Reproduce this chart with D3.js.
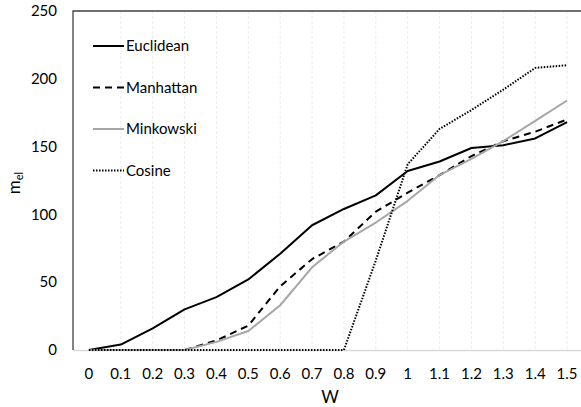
<!DOCTYPE html>
<html>
<head>
<meta charset="utf-8">
<script src="https://cdn.jsdelivr.net/npm/d3@7"></script>
<style>
  body { margin: 0; background: #fff; }
  svg text { font-family: Lato, "Open Sans", sans-serif; fill: #000; }
</style>
</head>
<body>
<svg id="chart" width="581" height="407"></svg>
<script>
// Data
const wLabels = ["0", "0.1", "0.2", "0.3", "0.4", "0.5", "0.6", "0.7", "0.8", "0.9", "1", "1.1", "1.2", "1.3", "1.4", "1.5"];
const euclidean = [0, 4, 16, 30, 39, 52, 71, 92, 104, 114, 132, 139, 149, 151, 156, 168];
const manhattan = [0, 0, 0, 0, 7, 18, 47, 67, 80, 102, 116, 129, 143, 154, 161, 170];
const minkowski = [0, 0, 0, 0, 6, 14, 33, 61, 80, 94, 110, 129, 141, 154, 169, 184];
const cosine = [0, 0, 0, 0, 0, 0, 0, 0, 0, 66, 137, 163, 177, 192, 208, 210];
const yTicks = [0, 50, 100, 150, 200, 250];

const series = [
  { name: "Euclidean", values: euclidean, color: "#000", width: 2, dash: null },
  { name: "Manhattan", values: manhattan, color: "#000", width: 2, dash: "7,5" },
  { name: "Minkowski", values: minkowski, color: "#a6a6a6", width: 2, dash: null },
  { name: "Cosine", values: cosine, color: "#000", width: 2, dash: "1.5,1.5" }
];

const svg = d3.select("#chart");
const plotLeft = 73, plotTop = 11, plotRight = 583, plotBottom = 350;

const x = d3.scaleBand().domain(wLabels).range([plotLeft, plotRight]);
const y = d3.scaleLinear().domain([0, 250]).range([plotBottom, plotTop]);

// vertical gridlines
svg.append("g")
  .selectAll("line")
  .data(wLabels.slice(1))
  .enter().append("line")
  .attr("x1", d => x(d) + x.bandwidth() / 2)
  .attr("x2", d => x(d) + x.bandwidth() / 2)
  .attr("y1", plotTop)
  .attr("y2", plotBottom)
  .attr("stroke", "#ececec")
  .attr("stroke-width", 1)
  .attr("stroke-dasharray", "3,2");

// bottom axis line
svg.append("line")
  .attr("x1", plotLeft).attr("x2", 581)
  .attr("y1", plotBottom + 0.5).attr("y2", plotBottom + 0.5)
  .attr("stroke", "#d9d9d9").attr("stroke-width", 1.5);

// border top and left
svg.append("path")
  .attr("d", `M${plotLeft},${plotBottom} L${plotLeft},${plotTop} L581,${plotTop}`)
  .attr("fill", "none")
  .attr("stroke", "#404040")
  .attr("stroke-width", 1.3);

// y tick labels
svg.append("g")
  .selectAll("text")
  .data(yTicks)
  .enter().append("text")
  .attr("x", 57)
  .attr("y", d => y(d))
  .attr("dy", "0.35em")
  .attr("text-anchor", "end")
  .attr("font-size", 15)
  .text(d => d);

// x tick labels
svg.append("g")
  .selectAll("text")
  .data(wLabels)
  .enter().append("text")
  .attr("x", d => x(d) + x.bandwidth() / 2)
  .attr("y", 374)
  .attr("dy", "0.35em")
  .attr("text-anchor", "middle")
  .attr("font-size", 15)
  .text(d => d);

// axis titles
svg.append("text")
  .attr("x", 330).attr("y", 397)
  .attr("dy", "0.35em")
  .attr("text-anchor", "middle")
  .attr("font-size", 17)
  .text("W");

const yt = svg.append("text")
  .attr("transform", "translate(20,183) rotate(-90)")
  .attr("text-anchor", "middle")
  .attr("font-size", 17);
yt.append("tspan").text("m");
yt.append("tspan").attr("font-size", 11).attr("dy", 3).text("el");

// lines
const line = d3.line()
  .x((d, i) => x(wLabels[i]) + x.bandwidth() / 2)
  .y(d => y(d));

svg.append("g")
  .selectAll("path")
  .data(series)
  .enter().append("path")
  .attr("d", d => line(d.values))
  .attr("fill", "none")
  .attr("stroke", d => d.color)
  .attr("stroke-width", d => d.width)
  .attr("stroke-dasharray", d => d.dash)
  .attr("stroke-linejoin", "round");

// legend
const legend = svg.append("g")
  .selectAll("g")
  .data(series)
  .enter().append("g")
  .attr("transform", (d, i) => `translate(93,${46 + i * 41.5})`);

legend.append("line")
  .attr("x1", 0).attr("x2", 31)
  .attr("stroke", d => d.color)
  .attr("stroke-width", d => d.width)
  .attr("stroke-dasharray", d => d.dash);

legend.append("text")
  .attr("x", 33)
  .attr("dy", "0.35em")
  .attr("font-size", 15)
  .text(d => d.name);
</script>
</body>
</html>
